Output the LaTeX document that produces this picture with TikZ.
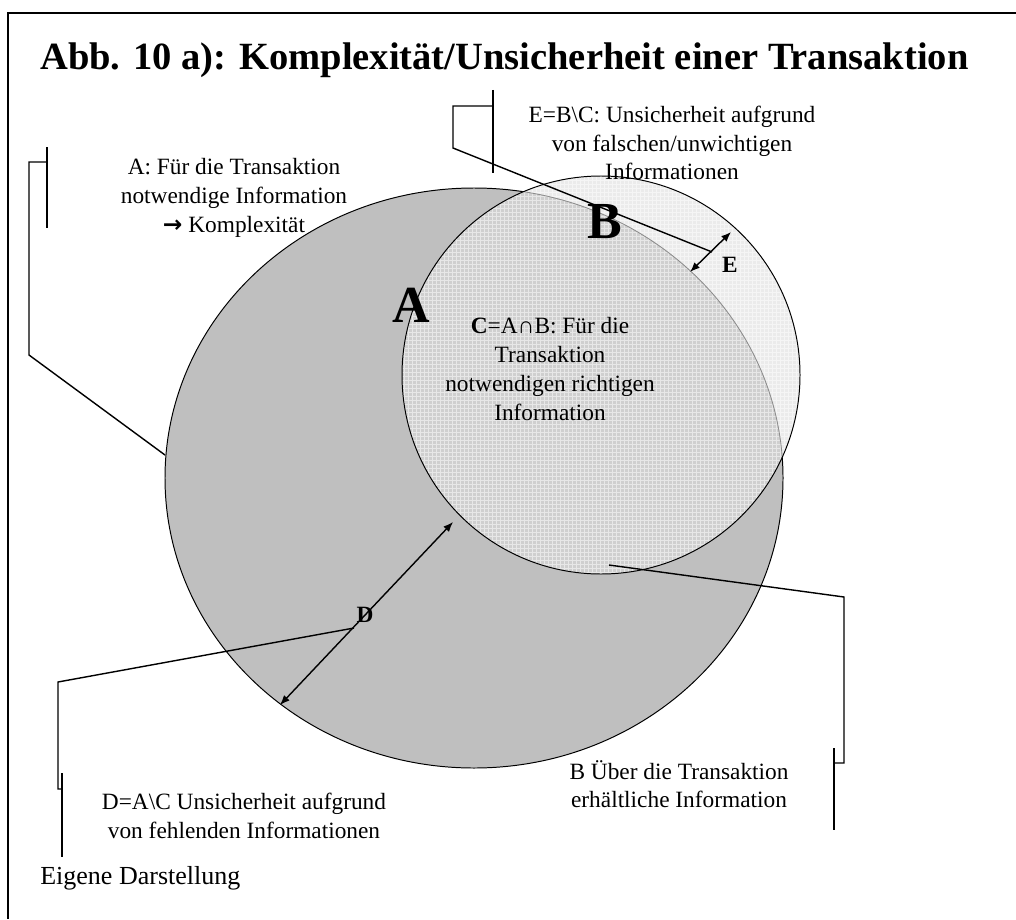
\documentclass[tikz,border=0pt]{standalone}
\usepackage{fontspec}
\setmainfont{Liberation Serif}
\newfontfamily\arrowfont{DejaVu Sans}
\usepackage{tikz}
\usetikzlibrary{arrows.meta}
\tikzset{>={Latex[length=7,width=5.5]}}
\usepackage{xcolor}
\colorlet{areaA}{black!25}
\colorlet{areaB}{black!8}
\colorlet{areaC}{black!19}

\newcommand\setApath{(474,478) ellipse [x radius=309, y radius=290]}
\newcommand\setBpath{(601,375) circle [radius=199]}

\begin{document}
\begin{tikzpicture}[x=0.025cm,y=-0.025cm,
    txt/.style={align=center,inner sep=0,font=\fontsize{16.6}{20.4}\selectfont},
    bigletter/.style={inner sep=0,font=\fontsize{37}{40}\selectfont\bfseries},
    dimletter/.style={inner sep=0,font=\fontsize{16.6}{18}\selectfont\bfseries},
    callout/.style={line width=1pt,line join=miter},
    dimarrow/.style={<->,line width=1pt}]
    \useasboundingbox (0,0) rectangle (1016,919);

    % frame and title
    \draw[line width=1.4pt] (1016,13) -- (8,13) -- (8,919);
    \node[anchor=base west,inner sep=0,font=\fontsize{27.4}{34}\selectfont\bfseries] (title) at (40,70)
        {Abb. 10 a): Komplexität/Unsicherheit einer Transaktion};

    % the two sets
    \fill[areaA,draw=black,line width=0.7pt] \setApath;
    \fill[areaB] \setBpath;
    \begin{scope}
        \clip \setBpath;
        \fill[areaC] \setApath;
        \draw[white,opacity=0.5,line width=0.3pt,step=0.1cm] (390,170) grid (810,580);
        \draw[black!45,line width=0.6pt] \setApath;
    \end{scope}
    \draw[line width=0.7pt] \setBpath;

    \node[bigletter] (letA) at (411,305) {A};
    \node[bigletter] (letB) at (605,222) {B};

    % texts
    \node[txt] (txtA) at (234,198) {A: Für die Transaktion\\notwendige Information\\{\arrowfont\bfseries →} Komplexität};
    \node[txt] (txtE) at (672,143) {E=B\textbackslash C: Unsicherheit aufgrund\\von falschen/unwichtigen\\Informationen};
    \node[txt] (txtC) at (550,369) {\textbf{C}=A∩B: Für die\\Transaktion\\notwendigen richtigen\\Information};
    \node[txt] (txtD) at (244,816) {D=A\textbackslash C Unsicherheit aufgrund\\von fehlenden Informationen};
    \node[txt] (txtB) at (679,784) {B Über die Transaktion\\erhältliche Information};
    \node[anchor=base west,inner sep=0,font=\fontsize{18.5}{20}\selectfont] (source) at (40,884) {Eigene Darstellung};

    % dimension arrows
    \coordinate (dIn) at (280,705);
    \coordinate (dOut) at (453,522);
    \coordinate (eIn) at (690,272);
    \coordinate (eOut) at (731,232);
    \draw[dimarrow] (dIn) -- (dOut);
    \draw[dimarrow] (eIn) -- (eOut);
    \node[dimletter] (labD) at (365,615) {D};
    \node[dimletter] (labE) at (730,265) {E};

    % callouts
    \coordinate (aBar) at (47,162);
    \coordinate (aRim) at (165,455);
    \draw[callout] (47,147) -- (47,228);
    \draw[callout] (aBar) -- ++(-18,0) -- ++(0,193) -- (aRim);

    \coordinate (eBar) at (493,106);
    \coordinate (eMid) at (712,252);
    \draw[callout] (493,90) -- (493,173);
    \draw[callout] (eBar) -- ++(-40,0) -- ++(0,42) -- (eMid);

    \coordinate (dBar) at (62,789);
    \coordinate (dMid) at (354,628);
    \draw[callout] (62,773) -- (62,857);
    \draw[callout] (dBar) -- ++(-4,0) -- ++(0,-107) -- (dMid);

    \coordinate (bBar) at (834,763);
    \coordinate (bRim) at (609,565);
    \draw[callout] (834,748) -- (834,830);
    \draw[callout] (bBar) -- ++(10,0) -- ++(0,-166) -- (bRim);
\end{tikzpicture}
\end{document}
